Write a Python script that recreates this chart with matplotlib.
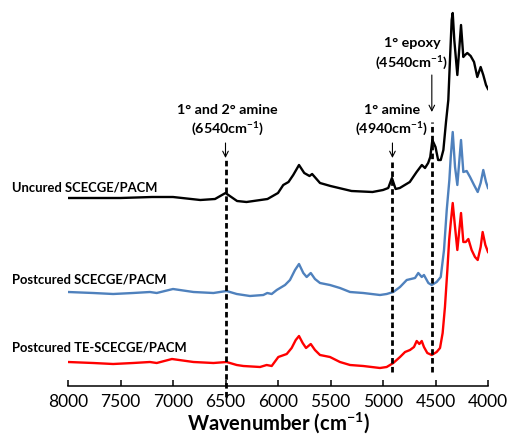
import matplotlib
matplotlib.use("Agg")
import matplotlib.pyplot as plt

plt.rcParams['font.family'] = ['Lato', 'DejaVu Sans']
plt.rcParams['mathtext.fontset'] = 'custom'
plt.rcParams['mathtext.rm'] = 'Lato'
plt.rcParams['mathtext.bf'] = 'Lato:bold'

# ---- data (wavenumber cm-1, offset absorbance, arbitrary units) ----
uncured_wn = [8000, 7500, 7200, 7000, 6740, 6600, 6500, 6390, 6300, 6100, 6000, 5950, 5900,
              5855, 5800, 5750, 5700, 5675, 5600, 5500, 5300, 5100, 5000, 4950, 4915, 4880,
              4840, 4745, 4680, 4630, 4600, 4570, 4550, 4530, 4500, 4475, 4450, 4425, 4400,
              4378, 4365, 4346, 4336, 4321, 4292, 4257, 4235, 4219, 4197, 4165, 4133, 4102,
              4070, 4045, 4019, 4000]
uncured_abs = [2.02, 2.02, 2.03, 2.03, 2.00, 2.01, 2.07, 1.99, 1.98, 2.01, 2.07, 2.15, 2.18,
               2.25, 2.35, 2.27, 2.24, 2.26, 2.17, 2.14, 2.09, 2.08, 2.10, 2.12, 2.22, 2.11,
               2.12, 2.18, 2.28, 2.35, 2.32, 2.37, 2.43, 2.60, 2.53, 2.40, 2.40, 2.50, 2.78,
               3.00, 3.33, 3.80, 3.87, 3.60, 3.25, 3.75, 3.43, 3.45, 3.47, 3.44, 3.38, 3.23,
               3.33, 3.25, 3.15, 3.11]

post_wn = [8000, 7760, 7570, 7380, 7220, 7155, 7000, 6805, 6615, 6490, 6393, 6267, 6140, 6102,
           6060, 6012, 5933, 5886, 5838, 5800, 5759, 5727, 5688, 5648, 5600, 5505, 5410, 5314,
           5188, 5029, 4965, 4902, 4838, 4774, 4695, 4664, 4631, 4610, 4568, 4536, 4489, 4450,
           4419, 4393, 4368, 4355, 4336, 4314, 4292, 4257, 4235, 4203, 4171, 4133, 4098, 4070,
           4045, 4019, 4000]
post_abs = [1.08, 1.07, 1.06, 1.07, 1.08, 1.07, 1.11, 1.08, 1.07, 1.09, 1.06, 1.04, 1.05, 1.07,
            1.06, 1.10, 1.15, 1.20, 1.30, 1.36, 1.27, 1.23, 1.27, 1.21, 1.17, 1.15, 1.12, 1.08,
            1.07, 1.05, 1.06, 1.08, 1.13, 1.20, 1.22, 1.27, 1.23, 1.25, 1.17, 1.15, 1.18, 1.23,
            1.50, 1.90, 2.20, 2.43, 2.68, 2.33, 2.15, 2.60, 2.28, 2.29, 2.23, 2.15, 2.08, 2.17,
            2.30, 2.18, 2.12]

te_wn = [8000, 7760, 7570, 7380, 7220, 7155, 7010, 6805, 6615, 6490, 6393, 6330, 6171, 6108,
         6060, 5997, 5917, 5870, 5831, 5800, 5765, 5733, 5688, 5648, 5600, 5505, 5410, 5314,
         5188, 5029, 4965, 4902, 4838, 4790, 4743, 4705, 4679, 4654, 4631, 4610, 4578, 4536,
         4489, 4457, 4432, 4410, 4387, 4370, 4355, 4336, 4314, 4292, 4257, 4235, 4212, 4187,
         4156, 4124, 4098, 4070, 4051, 4025, 4000]
te_abs = [0.38, 0.37, 0.36, 0.37, 0.38, 0.37, 0.41, 0.38, 0.37, 0.38, 0.35, 0.34, 0.33, 0.35,
          0.34, 0.43, 0.46, 0.52, 0.60, 0.64, 0.57, 0.52, 0.56, 0.50, 0.45, 0.43, 0.38, 0.35,
          0.34, 0.32, 0.33, 0.37, 0.43, 0.48, 0.50, 0.53, 0.59, 0.56, 0.59, 0.53, 0.47, 0.45,
          0.48, 0.52, 0.67, 0.93, 1.30, 1.60, 1.77, 1.97, 1.73, 1.50, 1.87, 1.58, 1.58, 1.61,
          1.50, 1.43, 1.40, 1.53, 1.68, 1.55, 1.48]

series_labels = ["Uncured SCECGE/PACM", "Postcured SCECGE/PACM", "Postcured TE-SCECGE/PACM"]
band_positions = [6500, 4910, 4535]
band_labels = ["1\u00b0 and 2\u00b0 amine", "1\u00b0 amine", "1\u00b0 epoxy"]
band_wavenumbers = ["6540", "4940", "4540"]
xticks = [8000, 7500, 7000, 6500, 6000, 5500, 5000, 4500, 4000]

# ---- figure ----
fig = plt.figure(figsize=(5.07, 4.43), dpi=100)
ax = fig.add_axes([68 / 507, 57 / 443, 420 / 507, 386 / 443])
ax.set_xlim(8000, 4000)
ax.set_ylim(0.14, 4.0)

blue = '#4F81BD'
red = '#FF0000'
lw = 1.7
ax.plot(uncured_wn, uncured_abs, color='black', lw=lw, solid_joinstyle='round')
ax.plot(post_wn, post_abs, color=blue, lw=lw, solid_joinstyle='round')
ax.plot(te_wn, te_abs, color=red, lw=lw, solid_joinstyle='round')

# dashed band markers
dash = (0, (2.0, 1.2))
line_spans = [(0.03, 2.40), (0.28, 2.40), (0.28, 2.78)]
for wn, (y0, y1) in zip(band_positions, line_spans):
    ax.plot([wn, wn], [y0, y1], color='black', lw=2.0, linestyle=dash, clip_on=False)

# arrows
arrow_spans = [(2.57, 2.42), (2.57, 2.42), (3.25, 2.88)]
for wn, (y0, y1) in zip(band_positions, arrow_spans):
    ax.annotate('', xy=(wn, y1), xytext=(wn, y0),
                arrowprops=dict(arrowstyle='->', color='black', lw=0.8,
                                shrinkA=0, shrinkB=0, mutation_scale=10))

# band labels
fs_band = 10.3
label_xy = [(6480, 2.90, 2.72), (4914, 2.90, 2.72), (4724, 3.57, 3.38)]
for (x, y1, y2), name, wn in zip(label_xy, band_labels, band_wavenumbers):
    ax.text(x, y1, name, ha='center', va='center', fontsize=fs_band, fontweight='bold')
    ax.text(x, y2, '(' + wn + r'cm$^{\mathbf{-1}}$)', ha='center', va='center',
            fontsize=fs_band, fontweight='bold')

# series labels
label_y = [2.12, 1.20, 0.53]
for name, y in zip(series_labels, label_y):
    ax.text(8533, y, name, ha='left', va='center', fontsize=9.4, fontweight='bold',
            clip_on=False)

# axes styling
for s in ['left', 'right', 'top']:
    ax.spines[s].set_visible(False)
ax.spines['bottom'].set_linewidth(1.1)
ax.set_yticks([])
ax.set_xticks(xticks)
ax.set_xticklabels([str(t) for t in xticks])
ax.tick_params(axis='x', direction='in', length=4.5, width=1.1, labelsize=12.5, pad=6)
ax.set_xlabel(r'Wavenumber (cm$^{\mathbf{-1}}$)', fontsize=14.5, fontweight='bold', labelpad=0)
ax.patch.set_visible(False)

fig.savefig('out.png', dpi=100)
